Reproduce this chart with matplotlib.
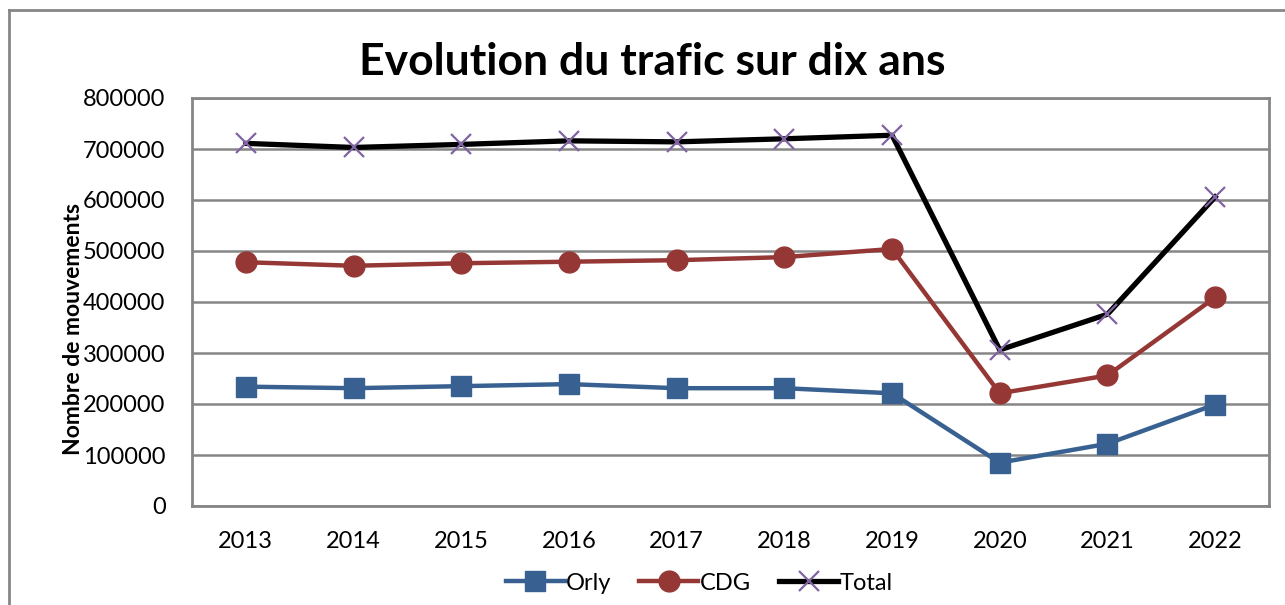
import matplotlib
matplotlib.use("Agg")
import matplotlib.pyplot as plt
from matplotlib.lines import Line2D

# données
annees = ['2013', '2014', '2015', '2016', '2017', '2018', '2019', '2020', '2021', '2022']
orly = [234000, 231000, 235000, 239000, 231000, 231000, 221000, 85000, 122000, 199000]
cdg = [478000, 471000, 476000, 479000, 482000, 488000, 504000, 221000, 256000, 409000]
total = [711000, 703000, 709000, 716000, 714000, 720000, 727000, 306000, 376000, 606000]

plt.rcParams['font.family'] = ['Lato', 'DejaVu Sans']

fig = plt.figure(figsize=(12.85, 6.05), dpi=100)
ax = fig.add_axes([192/1285, 1 - 506/605, (1269-192)/1285, (506-98)/605])

x = range(len(annees))
ax.plot(x, orly, color='#386192', lw=3.2, marker='s', ms=14, label='Orly', zorder=3)
ax.plot(x, cdg, color='#953735', lw=3.2, marker='o', ms=15, label='CDG', zorder=3)
ax.plot(x, total, color='black', lw=3.8, marker='x', ms=14, mec='#8064A2', mew=1.6,
        label='Total', zorder=4)

ax.set_xlim(-0.5, len(annees) - 0.5)
ax.set_ylim(0, 800000)
ax.set_yticks(range(0, 800001, 100000))
ax.set_yticklabels([str(v) for v in range(0, 800001, 100000)])
ax.set_xticks(list(x))
ax.set_xticklabels(annees)
ax.tick_params(axis='both', length=0, labelsize=17, colors='black')
ax.tick_params(axis='y', pad=19)
ax.tick_params(axis='x', pad=18)
ax.yaxis.grid(True, color='#868686', lw=1.8)
ax.set_axisbelow(True)
for s in ax.spines.values():
    s.set_color('#868686')
    s.set_linewidth(2)

# titre de l'axe y
fig.text(73/1285, 1 - 329/605, 'Nombre de mouvements', rotation=90, ha='center', va='center',
         fontsize=16.5, fontweight='bold')

fig.text(652/1285, 1 - 62/605, 'Evolution du trafic sur dix ans', ha='center', va='center',
         fontsize=32, fontweight='bold')

leg = fig.legend(loc='center', bbox_to_anchor=(699/1285, 1 - 583/605), ncol=3,
                 frameon=False, fontsize=17, handlelength=2.5, handletextpad=0.05,
                 columnspacing=1.2, borderpad=0)

# cadre extérieur du graphique
fig.add_artist(Line2D([9/1285, 9/1285], [0, 1 - 10/605], transform=fig.transFigure,
                      color='#868686', lw=2))
fig.add_artist(Line2D([9/1285, 1], [1 - 10/605, 1 - 10/605], transform=fig.transFigure,
                      color='#868686', lw=2))

fig.savefig('out.png', dpi=100)
